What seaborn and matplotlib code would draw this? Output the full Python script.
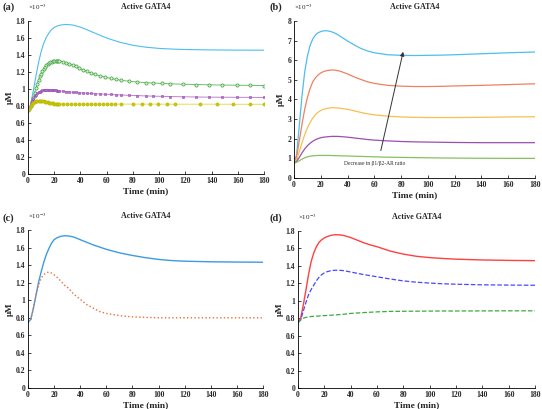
import matplotlib
matplotlib.use("Agg")
import matplotlib.pyplot as plt
import seaborn as sns
from matplotlib.ticker import FuncFormatter, MultipleLocator

# ----- data (values in units of 1e-3 uM) -----
# panel (a): solver time points (markers) and curves
t_a_mk = [0, 1, 2, 3, 4, 5, 6, 7, 8, 9, 10, 11, 12, 13, 14, 15, 16, 17, 18, 19, 20, 21, 22, 23, 24,
          26.5, 29, 31.5, 34, 36.5, 39, 42, 45, 48, 51, 55, 59, 63, 67, 71, 77, 83, 90, 95, 102, 108,
          118, 128, 138, 148, 159, 169, 180]
green_a = [0.75, 0.77, 0.80, 0.85, 0.90, 0.96, 1.01, 1.06, 1.11, 1.15, 1.18, 1.21, 1.24, 1.26, 1.28,
           1.295, 1.305, 1.315, 1.322, 1.327, 1.33, 1.332, 1.333, 1.332, 1.33,
           1.322, 1.31, 1.297, 1.282, 1.266, 1.245, 1.225, 1.207, 1.19, 1.174, 1.156, 1.14, 1.126,
           1.114, 1.104, 1.093, 1.084, 1.076, 1.072, 1.067, 1.063, 1.058, 1.054, 1.051, 1.048,
           1.046, 1.044, 1.042]
purple_a = [0.75, 0.78, 0.82, 0.86, 0.89, 0.915, 0.935, 0.95, 0.962, 0.972, 0.979, 0.984, 0.988,
            0.99, 0.991, 0.992, 0.992, 0.991, 0.99, 0.988, 0.986, 0.984, 0.982, 0.98, 0.978,
            0.974, 0.97, 0.967, 0.964, 0.961, 0.958, 0.955, 0.952, 0.949, 0.946, 0.943, 0.94,
            0.937, 0.934, 0.931, 0.927, 0.924, 0.92, 0.918, 0.915, 0.913, 0.91, 0.908, 0.906,
            0.905, 0.904, 0.903, 0.902]
t_a_y = [0, 1, 2, 3, 4, 5, 6, 7, 8, 9, 10, 11, 12, 13, 14, 15, 16, 17, 18, 19, 20, 21, 22, 23, 24,
         27, 30, 33, 36, 39, 42, 45, 48, 51, 54, 57, 60, 63, 66, 71, 80, 87, 93, 99, 106, 112,
         131, 144, 156, 169, 180]
yellow_a = [0.75, 0.77, 0.80, 0.825, 0.842, 0.853, 0.86, 0.864, 0.866, 0.866, 0.865, 0.862, 0.858,
            0.854, 0.85, 0.846, 0.842, 0.839, 0.836, 0.833, 0.831, 0.829, 0.828, 0.827, 0.826,
            0.825, 0.825, 0.825, 0.825, 0.825, 0.825, 0.825, 0.825, 0.825, 0.825, 0.825, 0.825,
            0.825, 0.825, 0.825, 0.824, 0.824, 0.824, 0.824, 0.823, 0.823, 0.823, 0.823, 0.822,
            0.822, 0.822]
t_a = [0, 2, 4, 6, 8, 10, 12, 14, 16, 18, 20, 22, 25, 28, 30, 32, 35, 40, 45, 50, 60, 70, 80, 90,
       100, 110, 120, 140, 160, 180]
blue_a = [0.75, 0.82, 0.98, 1.15, 1.31, 1.44, 1.54, 1.61, 1.66, 1.70, 1.725, 1.74, 1.753, 1.758,
          1.758, 1.756, 1.75, 1.727, 1.697, 1.664, 1.60, 1.55, 1.515, 1.492, 1.478, 1.47, 1.465,
          1.46, 1.458, 1.457]

# panels (b), (c), (d) share the same time grid
t = [0, 2, 4, 6, 8, 10, 12, 14, 16, 18, 20, 22, 25, 28, 30, 32, 35, 40, 45, 50, 55, 60, 70, 80,
     90, 100, 110, 120, 140, 160, 180]
blue_b = [0.75, 1.2, 2.7, 4.2, 5.4, 6.2, 6.75, 7.08, 7.28, 7.4, 7.46, 7.5, 7.5, 7.45, 7.4, 7.33,
          7.2, 6.98, 6.78, 6.6, 6.47, 6.38, 6.28, 6.25, 6.24, 6.25, 6.26, 6.28, 6.33, 6.38, 6.42]
orange_b = [0.75, 1.1, 1.9, 2.75, 3.5, 4.1, 4.55, 4.9, 5.1, 5.25, 5.35, 5.42, 5.48, 5.5, 5.5, 5.48,
            5.43, 5.3, 5.15, 5.02, 4.9, 4.82, 4.72, 4.68, 4.66, 4.66, 4.67, 4.69, 4.72, 4.76, 4.8]
yellow_b = [0.75, 0.95, 1.35, 1.8, 2.2, 2.55, 2.83, 3.05, 3.22, 3.35, 3.44, 3.5, 3.55, 3.58, 3.58,
            3.57, 3.55, 3.5, 3.42, 3.34, 3.27, 3.22, 3.15, 3.11, 3.09, 3.08, 3.08, 3.08, 3.09,
            3.11, 3.12]
purple_b = [0.75, 0.85, 1.05, 1.28, 1.48, 1.64, 1.77, 1.87, 1.95, 2.01, 2.05, 2.08, 2.1, 2.12, 2.12,
            2.12, 2.11, 2.08, 2.04, 2.0, 1.96, 1.93, 1.89, 1.86, 1.84, 1.83, 1.82, 1.81, 1.8, 1.8,
            1.8]
green_b = [0.75, 0.8, 0.88, 0.96, 1.03, 1.08, 1.11, 1.13, 1.14, 1.15, 1.15, 1.15, 1.15, 1.145,
           1.14, 1.137, 1.13, 1.12, 1.11, 1.1, 1.09, 1.08, 1.06, 1.05, 1.04, 1.03, 1.02, 1.015,
           1.005, 1.0, 1.0]

blue_c = [0.75, 0.78, 0.9, 1.05, 1.2, 1.32, 1.43, 1.52, 1.59, 1.65, 1.69, 1.71, 1.728, 1.735, 1.733,
          1.73, 1.72, 1.69, 1.66, 1.63, 1.605, 1.58, 1.54, 1.51, 1.485, 1.465, 1.452, 1.445, 1.438,
          1.435, 1.433]
orange_c = [0.75, 0.77, 0.9, 1.05, 1.17, 1.25, 1.29, 1.315, 1.32, 1.31, 1.29, 1.265, 1.22, 1.17,
            1.15, 1.12, 1.07, 1.01, 0.95, 0.91, 0.87, 0.85, 0.825, 0.81, 0.805, 0.80, 0.80, 0.80,
            0.80, 0.80, 0.80]

red_d = [0.75, 0.8, 0.95, 1.12, 1.3, 1.45, 1.55, 1.62, 1.67, 1.7, 1.72, 1.735, 1.75, 1.757, 1.757,
         1.755, 1.748, 1.725, 1.695, 1.665, 1.64, 1.62, 1.57, 1.535, 1.51, 1.495, 1.485, 1.477,
         1.468, 1.463, 1.46]
blue_d = [0.75, 0.78, 0.88, 0.98, 1.07, 1.13, 1.18, 1.23, 1.27, 1.3, 1.32, 1.333, 1.345, 1.35, 1.35,
          1.349, 1.345, 1.33, 1.315, 1.3, 1.288, 1.275, 1.25, 1.228, 1.213, 1.203, 1.195, 1.19,
          1.183, 1.18, 1.178]
green_d = [0.75, 0.78, 0.8, 0.81, 0.815, 0.82, 0.822, 0.824, 0.826, 0.828, 0.83, 0.832, 0.835,
           0.838, 0.84, 0.842, 0.846, 0.855, 0.86, 0.865, 0.869, 0.873, 0.878, 0.88, 0.881, 0.882,
           0.883, 0.883, 0.884, 0.885, 0.885]

SCALE = 1e-3

sns.set_theme(style="ticks")
plt.rcParams['font.family'] = ['Liberation Serif', 'DejaVu Serif']
plt.rcParams['mathtext.fontset'] = 'stix'

fig = plt.figure(figsize=(5.42, 4.09), dpi=100)
ax_a = fig.add_axes([0.0517, 0.5738, 0.4355, 0.3749])
ax_b = fig.add_axes([0.5424, 0.5648, 0.4447, 0.3839])
ax_c = fig.add_axes([0.0517, 0.0513, 0.4336, 0.3863])
ax_d = fig.add_axes([0.5498, 0.0513, 0.4373, 0.3839])


def sc(vals):
    return [v * SCALE for v in vals]


# ----- (a) -----
sns.lineplot(x=t_a, y=sc(blue_a), ax=ax_a, color="#4dbeee", lw=0.8)
sns.lineplot(x=t_a_mk, y=sc(green_a), ax=ax_a, color="#6cc06c", lw=0.7, marker='o',
             markersize=2.3, markerfacecolor="#d0f0c8", markeredgecolor="#3ca03c", markeredgewidth=0.5)
sns.lineplot(x=t_a_mk, y=sc(purple_a), ax=ax_a, color="#c080d0", lw=0.7, marker='s',
             markersize=2.0, markerfacecolor="#b878c8", markeredgecolor="#9848b0", markeredgewidth=0.4)
sns.lineplot(x=t_a_y, y=sc(yellow_a), ax=ax_a, color="#e0e050", lw=0.7, marker='o',
             markersize=2.3, markerfacecolor="#c8c800", markeredgecolor="#b8b800", markeredgewidth=0.4)

# ----- (b) -----
for vals, col in [(blue_b, "#4dbeee"), (orange_b, "#f08060"), (yellow_b, "#f5c050"),
                  (purple_b, "#9a50b0"), (green_b, "#88c060")]:
    sns.lineplot(x=t, y=sc(vals), ax=ax_b, color=col, lw=0.9)
ax_b.annotate("", xy=(82, 6.57e-3), xytext=(64.4, 1.26e-3),
              arrowprops=dict(arrowstyle='-|>', color='#333333', lw=0.7, mutation_scale=6))
ax_b.text(60, 0.72e-3, "Decrease in β1/β2-AR ratio", fontsize=4, ha='center', va='center')

# ----- (c) -----
sns.lineplot(x=t, y=sc(blue_c), ax=ax_c, color="#3d9be0", lw=1.0)
sns.lineplot(x=t, y=sc(orange_c), ax=ax_c, color="#e8703a", lw=1.0, linestyle=':')

# ----- (d) -----
sns.lineplot(x=t, y=sc(red_d), ax=ax_d, color="#ff4040", lw=1.0)
sns.lineplot(x=t, y=sc(blue_d), ax=ax_d, color="#4848ff", lw=0.9, linestyle='--', dashes=(3, 1.5))
sns.lineplot(x=t, y=sc(green_d), ax=ax_d, color="#40a840", lw=0.9, linestyle='--', dashes=(3, 1.5))

fmt = FuncFormatter(lambda v, p: f"{v / SCALE:g}")
for ax, lab, ymax, ystep, lx, ly in [(ax_a, "(a)", 1.8e-3, 0.2e-3, 0.004, 0.983),
                                     (ax_b, "(b)", 8e-3, 1e-3, 0.497, 0.983),
                                     (ax_c, "(c)", 1.8e-3, 0.2e-3, 0.004, 0.467),
                                     (ax_d, "(d)", 1.8e-3, 0.2e-3, 0.497, 0.467)]:
    ax.set_xlim(0, 180)
    ax.set_ylim(0, ymax)
    ax.xaxis.set_major_locator(MultipleLocator(20))
    ax.yaxis.set_major_locator(MultipleLocator(ystep))
    ax.yaxis.set_major_formatter(fmt)
    ax.tick_params(direction='in', length=2.5, width=0.6, labelsize=5.5, pad=2)
    for tl in ax.get_xticklabels() + ax.get_yticklabels():
        tl.set_fontweight('bold')
    sns.despine(ax=ax)
    for s in ['left', 'bottom']:
        ax.spines[s].set_linewidth(0.6)
        ax.spines[s].set_color('black')
    ax.set_xlabel("Time (min)", fontsize=6.8, fontweight='bold', labelpad=1.5)
    ax.set_ylabel("μM", fontsize=6.5, fontweight='bold', labelpad=1.5)
    ax.text(0.5, 1.09, "Active GATA4", transform=ax.transAxes, ha='center', va='center',
            fontsize=5.8, fontweight='bold')
    ax.text(0.0, 1.09, "×10$^{-3}$", transform=ax.transAxes, ha='left', va='center', fontsize=5)
    fig.text(lx, ly, lab, fontsize=7.5, fontweight='bold', ha='left', va='center')

fig.savefig("out.png", dpi=100)
